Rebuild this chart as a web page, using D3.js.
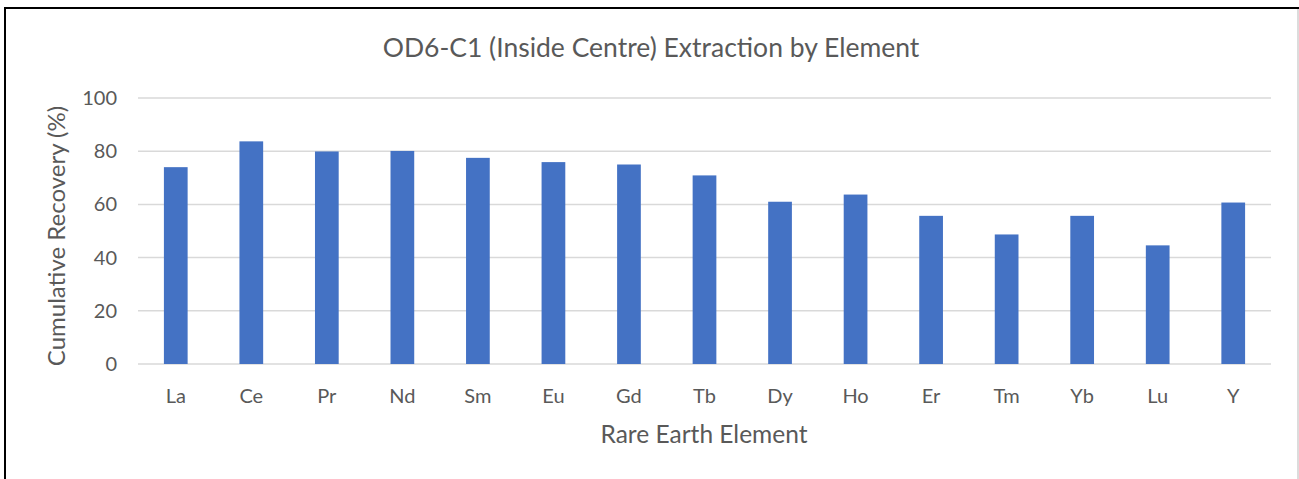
<!DOCTYPE html>
<html>
<head>
<meta charset="utf-8">
<script src="https://cdn.jsdelivr.net/npm/d3@7"></script>
<style>
  body { margin: 0; background: #fff; }
  text { font-family: Lato, "Noto Sans", sans-serif; fill: #595959; }
</style>
</head>
<body>
<svg id="chart"></svg>
<script>
const elements = ["La", "Ce", "Pr", "Nd", "Sm", "Eu", "Gd", "Tb", "Dy", "Ho", "Er", "Tm", "Yb", "Lu", "Y"];
const recovery = [74.0, 83.7, 79.9, 80.1, 77.5, 75.9, 75.0, 70.9, 61.0, 63.7, 55.7, 48.7, 55.7, 44.6, 60.7];
const yTicks = [0, 20, 40, 60, 80, 100];

const width = 1299, height = 479;
const margin = { left: 138, right: 28, top: 98, bottom: 115 };

const svg = d3.select("#chart")
    .attr("width", width)
    .attr("height", height);

// frame of the pasted chart
svg.append("line").attr("x1", 5).attr("y1", 8).attr("x2", 5).attr("y2", height)
    .attr("stroke", "#000").attr("stroke-width", 2);
svg.append("line").attr("x1", 4).attr("y1", 8).attr("x2", 1299).attr("y2", 8)
    .attr("stroke", "#000").attr("stroke-width", 2);
svg.append("line").attr("x1", 1298).attr("y1", 9).attr("x2", 1298).attr("y2", height)
    .attr("stroke", "#d0d0d0").attr("stroke-width", 1.5);

const x = d3.scaleBand()
    .domain(elements)
    .range([margin.left, width - margin.right])
    .paddingInner(0.686)
    .paddingOuter(0.343);

const y = d3.scaleLinear()
    .domain([0, 100])
    .range([height - margin.bottom, margin.top]);

// gridlines
svg.append("g")
    .selectAll("line")
    .data(yTicks)
    .enter().append("line")
    .attr("x1", margin.left)
    .attr("x2", width - margin.right)
    .attr("y1", d => y(d))
    .attr("y2", d => y(d))
    .attr("stroke", "#d9d9d9")
    .attr("stroke-width", 1.5);

// y tick labels
svg.append("g")
    .selectAll("text")
    .data(yTicks)
    .enter().append("text")
    .attr("x", 117)
    .attr("y", d => y(d))
    .attr("dy", "0.35em")
    .attr("text-anchor", "end")
    .style("font-size", "20px")
    .text(d => d);

// bars
svg.append("g")
    .selectAll("rect")
    .data(recovery)
    .enter().append("rect")
    .attr("x", (d, i) => x(elements[i]))
    .attr("width", x.bandwidth())
    .attr("y", d => y(d))
    .attr("height", d => y(0) - y(d))
    .attr("fill", "#4472c4");

// x tick labels
svg.append("g")
    .selectAll("text")
    .data(elements)
    .enter().append("text")
    .attr("x", d => x(d) + x.bandwidth() / 2)
    .attr("y", 396)
    .attr("dy", "0.35em")
    .attr("text-anchor", "middle")
    .style("font-size", "20px")
    .text(d => d);

// titles
svg.append("text")
    .attr("x", 651)
    .attr("y", 48)
    .attr("dy", "0.35em")
    .attr("text-anchor", "middle")
    .style("font-size", "26.5px")
    .text("OD6-C1 (Inside Centre) Extraction by Element");

svg.append("text")
    .attr("x", 704)
    .attr("y", 434)
    .attr("dy", "0.35em")
    .attr("text-anchor", "middle")
    .style("font-size", "24.5px")
    .text("Rare Earth Element");

svg.append("text")
    .attr("transform", "translate(57,236) rotate(-90)")
    .attr("dy", "0.35em")
    .attr("text-anchor", "middle")
    .style("font-size", "24px")
    .text("Cumulative Recovery (%)");
</script>
</body>
</html>
